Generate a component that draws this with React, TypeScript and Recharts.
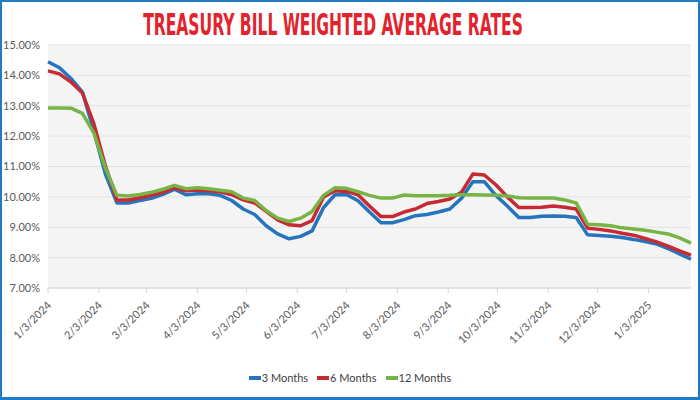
import { LineChart, Line, XAxis, YAxis, CartesianGrid } from "recharts";

// weekly auction dates (M/D/YYYY)
const auctionDates = [
  "1/3/2024", "1/10/2024", "1/17/2024", "1/24/2024", "1/31/2024",
  "2/7/2024", "2/14/2024", "2/21/2024", "2/28/2024",
  "3/6/2024", "3/13/2024", "3/20/2024", "3/27/2024",
  "4/3/2024", "4/10/2024", "4/17/2024", "4/24/2024",
  "5/1/2024", "5/8/2024", "5/15/2024", "5/22/2024", "5/29/2024",
  "6/5/2024", "6/12/2024", "6/19/2024", "6/26/2024",
  "7/3/2024", "7/10/2024", "7/17/2024", "7/24/2024", "7/31/2024",
  "8/7/2024", "8/14/2024", "8/21/2024", "8/28/2024",
  "9/4/2024", "9/11/2024", "9/18/2024", "9/25/2024",
  "10/2/2024", "10/9/2024", "10/16/2024", "10/23/2024", "10/30/2024",
  "11/6/2024", "11/13/2024", "11/20/2024", "11/27/2024",
  "12/4/2024", "12/11/2024", "12/18/2024", "12/25/2024",
  "1/1/2025", "1/8/2025", "1/15/2025", "1/22/2025", "1/29/2025",
];

const threeMonths = [
  14.45, 14.25, 13.9, 13.45, 12.15, 10.75, 9.8, 9.8, 9.88, 9.95,
  10.08, 10.25, 10.07, 10.1, 10.1, 10.05, 9.88, 9.6, 9.42, 9.05,
  8.78, 8.62, 8.7, 8.88, 9.65, 10.07, 10.08, 9.87, 9.5, 9.15,
  9.15, 9.25, 9.38, 9.42, 9.5, 9.6, 9.95, 10.5, 10.5, 10.05,
  9.7, 9.32, 9.32, 9.36, 9.37, 9.36, 9.32, 8.75, 8.73, 8.7,
  8.66, 8.6, 8.53, 8.45, 8.3, 8.12, 7.95,
];

const sixMonths = [
  14.15, 14.05, 13.78, 13.42, 12.4, 11.02, 9.9, 9.9, 9.97, 10.05,
  10.15, 10.3, 10.2, 10.23, 10.2, 10.17, 10.07, 9.9, 9.8, 9.52,
  9.24, 9.08, 9.05, 9.22, 10.0, 10.2, 10.18, 10.07, 9.7, 9.35,
  9.35, 9.5, 9.6, 9.78, 9.85, 9.93, 10.15, 10.75, 10.72, 10.4,
  10.0, 9.65, 9.65, 9.66, 9.7, 9.66, 9.6, 8.97, 8.93, 8.88,
  8.8, 8.74, 8.63, 8.52, 8.38, 8.22, 8.08,
];

const twelveMonths = [
  12.93, 12.93, 12.92, 12.75, 12.1, 10.95, 10.05, 10.03, 10.08, 10.15,
  10.25, 10.38, 10.27, 10.3, 10.27, 10.22, 10.17, 9.96, 9.88, 9.55,
  9.3, 9.19, 9.3, 9.52, 10.05, 10.3, 10.28, 10.17, 10.05, 9.96,
  9.96, 10.06, 10.04, 10.04, 10.04, 10.05, 10.07, 10.07, 10.06, 10.05,
  10.03, 9.97, 9.96, 9.96, 9.96, 9.9, 9.8, 9.1, 9.08, 9.05,
  8.98, 8.94, 8.9, 8.84, 8.78, 8.65, 8.48,
];

const tickDates = [
  "1/3/2024", "2/3/2024", "3/3/2024", "4/3/2024", "5/3/2024", "6/3/2024", "7/3/2024",
  "8/3/2024", "9/3/2024", "10/3/2024", "11/3/2024", "12/3/2024", "1/3/2025",
];
const yTicks = [7, 8, 9, 10, 11, 12, 13, 14, 15];

const series = [
  { key: "m3", name: "3 Months", color: "#2673be" },
  { key: "m6", name: "6 Months", color: "#c62a32" },
  { key: "m12", name: "12 Months", color: "#78b445" },
];

const toDay = (s: string) => {
  const [m, d, y] = s.split("/").map(Number);
  return (Date.UTC(y, m - 1, d) - Date.UTC(2024, 0, 3)) / 86400000;
};

const data = auctionDates.map((s, i) => ({
  day: toDay(s),
  m3: threeMonths[i],
  m6: sixMonths[i],
  m12: twelveMonths[i],
}));

const FONT = "Lato, 'Open Sans', sans-serif";

const DateTick = ({ x, y, payload }: any) => {
  const label = tickDates.find(s => toDay(s) === payload.value) ?? "";
  const tx = x + 4;
  const ty = y + 11;
  return (
    <text x={tx} y={ty} transform={`rotate(-45, ${tx}, ${ty})`} textAnchor="end" fontSize={11} fill="#595959" fontFamily={FONT}>
      {label}
    </text>
  );
};

export default function App() {
  const lastDay = data[data.length - 1].day;
  return (
    <div style={{ position: "absolute", left: 0, top: 0, width: 700, height: 400, background: "#fff", overflow: "hidden" }}>
      <div style={{ position: "absolute", left: 0, top: 0, width: 700, height: 400, boxSizing: "border-box", border: "2px solid #1f7bc6", borderBottomWidth: 3 }} />
      <div style={{ position: "absolute", left: 0, top: 0 }}>
        <LineChart width={700} height={400} data={data} margin={{ top: 45, right: 9, left: 0, bottom: 52 }}>
          <CartesianGrid vertical={false} stroke="#e2e2e2" fill="#f4f4f4" />
          <XAxis
            dataKey="day"
            type="number"
            domain={[0, lastDay]}
            ticks={tickDates.map(toDay)}
            interval={0}
            height={60}
            tick={<DateTick />}
            tickSize={5}
            tickLine={{ stroke: "#d6d6d6" }}
            axisLine={{ stroke: "#d6d6d6" }}
          />
          <YAxis
            domain={[7, 15]}
            ticks={yTicks}
            width={48}
            axisLine={false}
            tickLine={false}
            tick={{ fontSize: 11, fill: "#595959", fontFamily: FONT }}
            tickFormatter={(v: number) => `${v.toFixed(2)}%`}
          />
          {series.map(s => (
            <Line
              key={s.key}
              type="linear"
              dataKey={s.key}
              name={s.name}
              stroke={s.color}
              strokeWidth={3.5}
              strokeLinejoin="round"
              dot={false}
              isAnimationActive={false}
            />
          ))}
          <text
            transform="translate(333, 35) scale(0.72, 1.22)"
            textAnchor="middle"
            fontFamily="'Liberation Sans Narrow', 'DejaVu Sans Condensed', sans-serif"
            fontWeight="bold"
            fontSize={24}
            fill="#e3232c"
          >
            TREASURY BILL WEIGHTED AVERAGE RATES
          </text>
        </LineChart>
      </div>
      <div style={{ position: "absolute", left: 0, top: 371, width: 700, display: "flex", justifyContent: "center", gap: 9, fontFamily: FONT, fontSize: 11, color: "#404040" }}>
        {series.map(s => (
          <div key={s.key} style={{ display: "flex", alignItems: "center" }}>
            <span style={{ display: "inline-block", width: 12, height: 4, background: s.color, marginRight: 1 }} />
            <span>{s.name}</span>
          </div>
        ))}
      </div>
    </div>
  );
}
